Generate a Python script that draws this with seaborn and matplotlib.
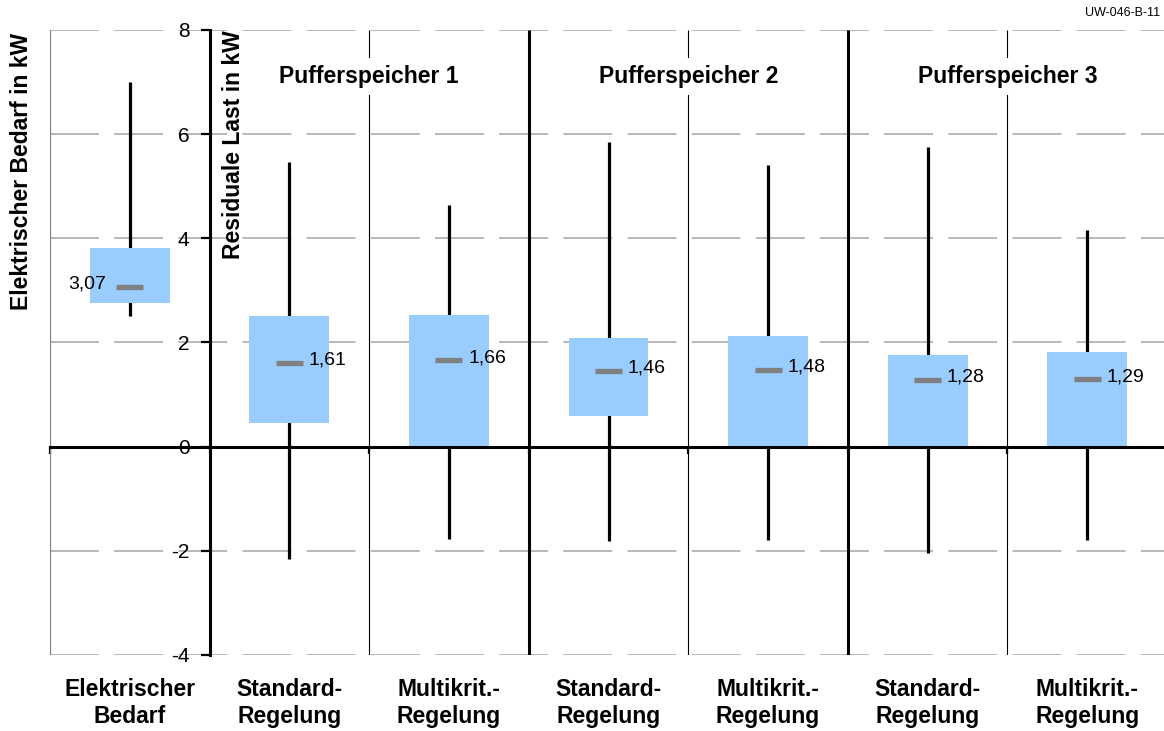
import matplotlib
matplotlib.use("Agg")
import matplotlib.pyplot as plt
import pandas as pd
import seaborn as sns

# Categories (unique keys) and their two-line axis labels
keys = ["Bedarf", "P1 Standard", "P1 Multikrit", "P2 Standard", "P2 Multikrit",
        "P3 Standard", "P3 Multikrit"]
tick_labels = ["Elektrischer\nBedarf", "Standard-\nRegelung", "Multikrit.-\nRegelung",
               "Standard-\nRegelung", "Multikrit.-\nRegelung", "Standard-\nRegelung",
               "Multikrit.-\nRegelung"]
group_titles = ["Pufferspeicher 1", "Pufferspeicher 2", "Pufferspeicher 3"]

# Statistics per category (kW)
whisker_min = [2.50, -2.16, -1.78, -1.82, -1.80, -2.04, -1.79]
whisker_max = [7.01, 5.47, 4.64, 5.84, 5.40, 5.76, 4.16]
box_low = [2.75, 0.46, 0.00, 0.58, 0.00, 0.00, 0.00]
box_high = [3.81, 2.51, 2.53, 2.09, 2.13, 1.76, 1.82]
means = [3.07, 1.61, 1.66, 1.46, 1.48, 1.28, 1.29]

y_ticks = [-4, -2, 0, 2, 4, 6, 8]

sns.set_theme(style="white")
plt.rcParams["font.family"] = ["Liberation Sans", "DejaVu Sans"]
plt.rcParams.update({
    "text.color": "black",
    "axes.labelcolor": "black",
    "xtick.color": "black",
    "ytick.color": "black",
})

df = pd.DataFrame({
    "key": keys,
    "span": [h - l for h, l in zip(box_high, box_low)],
})

W, H = 1164, 731
fig = plt.figure(figsize=(W / 100, H / 100), dpi=100)
ax = fig.add_axes([50 / W, 76 / H, 1117 / W, 625 / H])

# Interquartile boxes
sns.barplot(data=df, x="key", y="span", order=keys, bottom=box_low,
            color="#99CCFF", saturation=1, width=0.5, errorbar=None,
            edgecolor="none", linewidth=0, zorder=2, ax=ax)

pos = list(range(len(keys)))

# Whiskers (min to max), behind the boxes
ax.vlines(pos, whisker_min, whisker_max, color="black", linewidth=2.3, zorder=1.5)

# Mean markers and labels
ax.hlines(means, [p - 0.085 for p in pos], [p + 0.085 for p in pos],
          color="#808080", linewidth=3.8, zorder=3)
for p, m in zip(pos, means):
    label = f"{m:.2f}".replace(".", ",")
    if p == 0:
        ax.text(p - 0.15, m + 0.05, label, ha="right", va="center", fontsize=14,
                color="black", zorder=4)
    else:
        ax.text(p + 0.12, m + 0.05, label, ha="left", va="center", fontsize=14,
                color="black", zorder=4)

# Dashed horizontal grid
for yv in y_ticks:
    if yv != 0:
        ax.axhline(yv, color="#A6A6A6", linewidth=1.1, linestyle=(0, (32, 10)), zorder=0.5)

# Category separators
ax.vlines([-0.5], -4, 8, color="#808080", linewidth=0.9, zorder=1)
ax.vlines([1.5, 3.5, 5.5], -4, 8, color="black", linewidth=0.8, zorder=1)
ax.vlines([2.5, 4.5], -4.08, 8, color="black", linewidth=2.2, zorder=1)

# Group titles with white background breaking the separator lines
for xg, title in zip([1.5, 3.5, 5.5], group_titles):
    ax.text(xg, 7.1, title, ha="center", va="center", fontsize=16.5,
            fontweight="bold", color="black", zorder=5,
            bbox=dict(facecolor="white", edgecolor="none", pad=5))

ax.set_xlim(-0.5, 6.5)
ax.set_ylim(-4, 8)
ax.set_xlabel("")
ax.set_ylabel("")

for side in ["top", "right"]:
    ax.spines[side].set_visible(False)
ax.spines["left"].set_position(("data", 0.5))
ax.spines["bottom"].set_position(("data", 0))
for side in ["left", "bottom"]:
    ax.spines[side].set_linewidth(2.2)
    ax.spines[side].set_color("black")
    ax.spines[side].set_zorder(3)

ax.set_yticks(y_ticks)
ax.set_yticklabels([str(v) for v in y_ticks])
ax.tick_params(axis="y", direction="out", length=6.5, width=1.6, pad=8,
               labelsize=15, colors="black", left=True)
ax.set_xticks([-0.5, 0.5, 1.5, 2.5, 3.5, 4.5, 5.5])
ax.set_xticklabels([])
ax.tick_params(axis="x", direction="out", length=5, width=1.6, colors="black", bottom=True)

# Category labels below the plot area
for p, lab in zip(pos, tick_labels):
    ax.text(p, -4.45, lab, ha="center", va="top", fontsize=16.5, fontweight="bold",
            color="black", linespacing=1.2)

# Axis titles
fig.text(22 / W, 1 - 33 / H, "Elektrischer Bedarf in kW", rotation=90,
         ha="center", va="top", fontsize=16.5, fontweight="bold", color="black")
fig.text(233 / W, 1 - 30 / H, "Residuale Last in kW", rotation=90,
         ha="center", va="top", fontsize=16.5, fontweight="bold", color="black")

fig.text(1160 / W, 1 - 13 / H, "UW-046-B-11", ha="right", va="center", fontsize=9,
         color="black")

fig.savefig("out.png", dpi=100)
